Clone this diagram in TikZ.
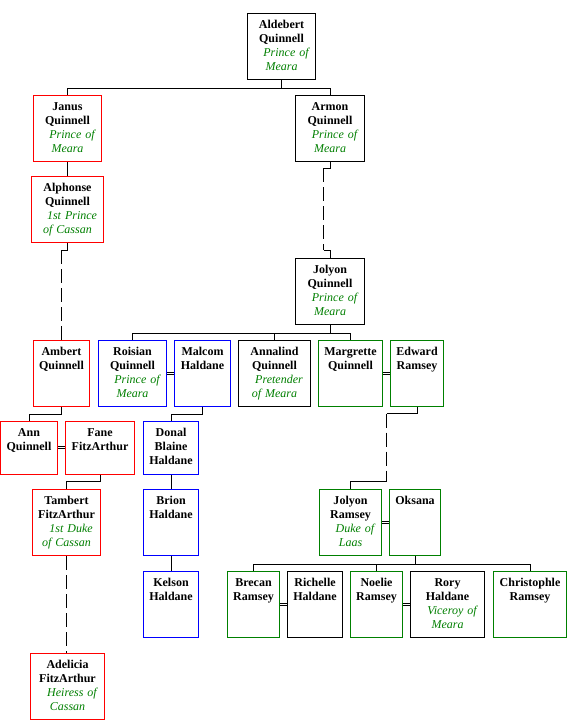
\documentclass[tikz,border=0pt]{standalone}
\usepackage{fontspec}
\setmainfont{Liberation Serif}
\usetikzlibrary{calc}
\definecolor{tgreen}{RGB}{0,128,0}
\definecolor{pred}{RGB}{255,0,0}
\definecolor{pblue}{RGB}{0,0,255}
\definecolor{pgreen}{RGB}{0,128,0}
\newcommand\ttl[1]{{\mdseries\itshape\color{tgreen}#1}}
\newcommand\ind{\hspace*{9pt}}
\newcommand\pers[7]{%
  \node[pbox, draw=#6, minimum width={#4-#2}, minimum height={#5-#3}] (#1) at ({(#2+#4)/2},{(#3+#5)/2}) {};
  \node[ptxt, text width={#4-#2}] (#1-t) at ($(#1.north)+(0,15.7)$) {#7};}
\begin{document}
\begin{tikzpicture}[x=1pt,y=-1pt,
  pbox/.style={rectangle, line width=1pt, inner sep=0pt, fill=white},
  ptxt/.style={anchor=base, inner sep=0pt, align=center, font=\fontsize{12}{14}\selectfont\bfseries},
  conn/.style={line width=1pt, black},
  dconn/.style={line width=1pt, black, dash pattern=on 14pt off 5pt},
  marr/.style={line width=1pt, black, double=white, double distance=1.2pt}]
\useasboundingbox (0,0) rectangle (567,720);

\pers{aldebert}{247.5}{13.5}{315.5}{79.5}{black}{Aldebert\\Quinnell\\\ind\ttl{Prince of}\\\ttl{Meara}}
\pers{janus}{33.5}{95.5}{101.5}{161.5}{pred}{Janus\\Quinnell\\\ind\ttl{Prince of}\\\ttl{Meara}}
\pers{armon}{295.5}{95.5}{364.5}{161.5}{black}{Armon\\Quinnell\\\ind\ttl{Prince of}\\\ttl{Meara}}
\pers{alphonse}{31.5}{176.5}{103.5}{242}{pred}{Alphonse\\Quinnell\\\ind\ttl{1st Prince}\\\ttl{of Cassan}}
\pers{jolyonq}{295.5}{258.5}{364.5}{324}{black}{Jolyon\\Quinnell\\\ind\ttl{Prince of}\\\ttl{Meara}}
\pers{ambert}{33.5}{340.5}{89.5}{406.5}{pred}{Ambert\\Quinnell}
\pers{roisian}{98.5}{340.5}{166.5}{406.5}{pblue}{Roisian\\Quinnell\\\ind\ttl{Prince of}\\\ttl{Meara}}
\pers{malcom}{174.5}{340.5}{230.5}{406.5}{pblue}{Malcom\\Haldane}
\pers{annalind}{238.5}{340.5}{310.5}{406.5}{black}{Annalind\\Quinnell\\\ind\ttl{Pretender}\\\ttl{of Meara}}
\pers{margrette}{318.5}{340.5}{382.5}{406.5}{pgreen}{Margrette\\Quinnell}
\pers{edward}{390.5}{340.5}{443.5}{406.5}{pgreen}{Edward\\Ramsey}
\pers{ann}{0.5}{421.5}{57.5}{474}{pred}{Ann\\Quinnell}
\pers{fane}{65.5}{421.5}{134.5}{474}{pred}{Fane\\FitzArthur}
\pers{donal}{143.5}{421.5}{198.5}{474}{pblue}{Donal\\Blaine\\Haldane}
\pers{tambert}{32.5}{489.5}{100.5}{555.5}{pred}{Tambert\\FitzArthur\\\ind\ttl{1st Duke}\\\ttl{of Cassan}}
\pers{brion}{143.5}{489.5}{198.5}{555.5}{pblue}{Brion\\Haldane}
\pers{jolyonr}{319.5}{489.5}{381.5}{555.5}{pgreen}{Jolyon\\Ramsey\\\ind\ttl{Duke of}\\\ttl{Laas}}
\pers{oksana}{389.5}{489.5}{440.5}{555.5}{pgreen}{Oksana}
\pers{kelson}{143.5}{571.5}{198.5}{637.5}{pblue}{Kelson\\Haldane}
\pers{brecan}{227.5}{571.5}{279.5}{637.5}{pgreen}{Brecan\\Ramsey}
\pers{richelle}{287.5}{571.5}{342.5}{637.5}{black}{Richelle\\Haldane}
\pers{noelie}{350.5}{571.5}{402.5}{637.5}{pgreen}{Noelie\\Ramsey}
\pers{rory}{410.5}{571.5}{484.5}{637.5}{black}{Rory\\Haldane\\\ind\ttl{Viceroy of}\\\ttl{Meara}}
\pers{christophle}{493.5}{571.5}{566.5}{637.5}{pgreen}{Christophle\\Ramsey}
\pers{adelicia}{30.5}{653.5}{104.5}{719}{pred}{Adelicia\\FitzArthur\\\ind\ttl{Heiress of}\\\ttl{Cassan}}

% descent lines
\draw[conn] (aldebert.south) -- ++(0,8) -| (janus.north);
\draw[conn] (aldebert.south) -- ++(0,8) -| (armon.north);
\draw[conn] (janus.south) -- (alphonse.north);
\coordinate (j1) at (61.5,250);
\draw[conn] (alphonse.south) |- (j1);
\draw[dconn] (j1) -- (ambert.north);
\coordinate (j2) at (323.5,168);
\coordinate (j3) at (323.5,250);
\draw[conn] (armon.south) |- (j2);
\draw[dconn] (j2) -- (j3);
\draw[conn] (j3) -| (jolyonq.north);
\draw[conn] (jolyonq.south) -- ++(0,8.5) -| (roisian.north);
\draw[conn] (jolyonq.south) -- ++(0,8.5) -| (annalind.north);
\draw[conn] (jolyonq.south) -- ++(0,8.5) -| (margrette.north);
\draw[conn] (ambert.south) -- ++(0,7) -| (ann.north);
\draw[conn] (malcom.south) -- ++(0,7) -| (donal.north);
\coordinate (j4) at (386.5,413.5);
\coordinate (j5) at (386.5,481);
\draw[conn] (edward.south) |- (j4);
\draw[dconn] (j4) -- (j5);
\draw[conn] (j5) -| (jolyonr.north);
\draw[conn] (fane.south) -- ++(0,7) -| (tambert.north);
\coordinate (j6) at (tambert.south |- adelicia.north);
\draw[dconn] (tambert.south) -- (j6);
\draw[conn] (donal.south) -- (brion.north);
\draw[conn] (brion.south) -- (kelson.north);
\draw[conn] (oksana.south) -- ++(0,8) -| (brecan.north);
\draw[conn] (oksana.south) -- ++(0,8) -| (noelie.north);
\draw[conn] (oksana.south) -- ++(0,8) -| (christophle.north);

% marriages
\draw[marr] (roisian.east) -- (malcom.west);
\draw[marr] (margrette.east) -- (edward.west);
\draw[marr] (ann.east) -- (fane.west);
\draw[marr] (jolyonr.east) -- (oksana.west);
\draw[marr] (brecan.east) -- (richelle.west);
\draw[marr] (noelie.east) -- (rory.west);
\end{tikzpicture}
\end{document}
